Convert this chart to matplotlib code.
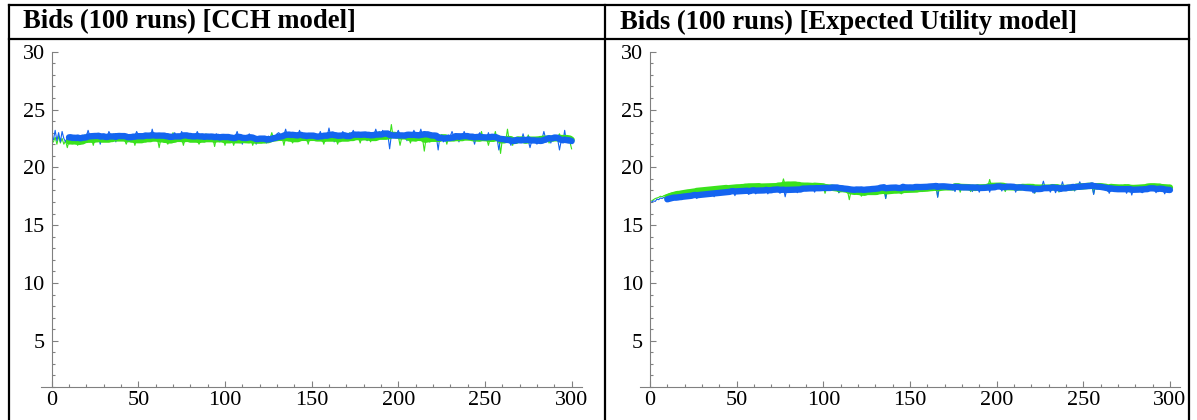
import numpy as np
import pandas as pd
import matplotlib
matplotlib.use('Agg')
import matplotlib.pyplot as plt
from matplotlib.lines import Line2D
from matplotlib.ticker import MultipleLocator

plt.rcParams['font.family'] = ['Liberation Serif', 'DejaVu Serif']

titles = ['Bids (100 runs) [CCH model]', 'Bids (100 runs) [Expected Utility model]']

# raw bids per round, 300 rounds
cch_blue = [
    22.4, 23.2, 22.3, 23.0, 22.2, 23.1, 22.5, 22.2, 22.6, 22.4, 22.5, 22.6, 22.5, 22.7, 22.6, 22.6, 22.5, 22.7, 22.6, 22.7,
    23.2, 22.7, 22.6, 22.8, 22.7, 22.6, 22.7, 22.0, 22.7, 22.8, 22.7, 22.6, 23.1, 22.8, 22.7, 22.7, 22.2, 22.7, 22.8, 22.7,
    22.7, 22.6, 22.7, 22.2, 22.8, 22.7, 22.6, 22.7, 23.1, 22.8, 22.7, 22.6, 22.7, 22.8, 22.7, 22.7, 22.6, 23.3, 22.7, 22.6,
    22.7, 22.7, 22.6, 22.8, 22.7, 22.2, 22.6, 22.7, 22.8, 22.7, 23.0, 22.6, 22.7, 22.7, 23.1, 22.7, 22.6, 22.7, 22.3, 22.7,
    22.7, 22.6, 22.7, 23.1, 22.7, 22.6, 22.7, 22.2, 22.6, 22.7, 22.6, 22.7, 22.6, 22.7, 22.9, 22.6, 22.2, 22.6, 22.7, 22.6,
    22.6, 22.7, 22.2, 22.5, 22.6, 22.7, 23.1, 22.6, 22.5, 22.0, 22.5, 22.6, 22.5, 22.9, 22.5, 22.5, 22.4, 22.0, 22.5, 22.4,
    22.5, 22.6, 22.5, 22.1, 22.7, 22.6, 22.7, 22.6, 22.7, 22.9, 23.0, 22.8, 22.7, 22.8, 23.3, 22.7, 22.8, 22.3, 22.8, 22.7,
    22.8, 22.7, 23.2, 22.7, 22.8, 22.7, 22.3, 22.7, 22.8, 22.7, 22.8, 22.3, 22.8, 22.7, 23.1, 22.7, 22.7, 22.8, 22.7, 23.4,
    22.7, 22.8, 22.2, 22.6, 22.7, 22.8, 22.7, 23.1, 22.7, 22.7, 22.8, 22.7, 22.8, 23.2, 22.8, 22.7, 22.8, 22.9, 22.8, 22.8,
    22.9, 22.3, 22.9, 22.8, 22.9, 22.8, 23.3, 22.8, 22.9, 22.8, 23.2, 22.8, 22.9, 22.8, 21.6, 22.8, 22.9, 22.8, 22.9, 23.2,
    22.8, 22.9, 22.8, 22.7, 22.3, 22.9, 22.8, 22.7, 23.2, 22.8, 22.7, 22.8, 23.3, 22.7, 22.8, 22.7, 22.8, 22.2, 22.8, 22.7,
    22.7, 22.6, 21.5, 22.7, 22.8, 22.2, 22.6, 22.7, 22.8, 22.7, 23.1, 22.7, 22.6, 22.7, 22.2, 22.7, 22.6, 23.1, 22.6, 22.7,
    22.6, 22.7, 22.6, 22.0, 22.6, 22.7, 23.0, 22.5, 22.6, 22.6, 22.5, 23.0, 22.5, 22.4, 22.5, 22.6, 22.5, 21.5, 22.5, 22.4,
    22.4, 22.5, 22.4, 22.3, 21.9, 22.5, 22.4, 22.3, 22.4, 22.3, 22.3, 22.9, 22.3, 22.4, 22.3, 21.7, 22.3, 22.4, 22.3, 22.0,
    22.5, 22.6, 22.5, 23.1, 22.5, 22.6, 22.7, 22.1, 22.5, 22.6, 22.5, 22.4, 21.5, 22.3, 22.2, 23.2, 22.2, 22.1, 22.2, 22.1,
]
cch_green = [
    22.2, 22.6, 22.0, 22.7, 22.1, 22.5, 22.0, 22.3, 21.7, 22.3, 22.3, 22.4, 22.3, 22.4, 21.9, 22.4, 22.3, 22.5, 22.8, 22.4,
    22.5, 22.4, 22.5, 21.9, 22.5, 22.4, 22.5, 22.4, 22.5, 22.4, 22.5, 22.4, 22.5, 22.4, 22.5, 22.9, 22.5, 22.4, 22.5, 22.4,
    22.5, 22.4, 22.0, 22.4, 22.5, 22.4, 22.5, 21.9, 22.5, 22.4, 22.5, 22.4, 22.5, 22.4, 22.9, 22.4, 22.5, 22.4, 22.5, 22.4,
    22.5, 21.7, 22.5, 22.4, 22.5, 22.4, 22.0, 22.4, 22.5, 23.0, 22.5, 22.4, 22.5, 22.4, 22.5, 21.9, 22.5, 22.4, 22.5, 22.4,
    22.5, 22.4, 22.5, 22.4, 22.0, 22.4, 22.5, 22.4, 22.9, 22.4, 22.5, 22.4, 22.5, 21.8, 22.5, 22.4, 22.5, 22.4, 22.5, 21.9,
    22.5, 22.4, 22.5, 22.4, 21.9, 22.4, 22.5, 22.4, 22.4, 22.3, 22.4, 22.3, 22.4, 22.3, 22.4, 21.9, 22.4, 22.3, 22.4, 22.3,
    22.4, 22.5, 22.4, 22.5, 22.4, 22.5, 23.0, 22.5, 22.6, 22.5, 22.6, 22.5, 22.6, 21.9, 22.6, 22.5, 22.6, 22.5, 22.1, 22.5,
    22.6, 22.5, 23.1, 22.5, 22.6, 22.5, 22.6, 22.0, 22.6, 22.5, 22.6, 22.5, 22.6, 22.5, 22.6, 22.5, 22.0, 22.5, 22.6, 22.5,
    22.6, 22.5, 22.6, 22.5, 22.0, 22.5, 22.6, 22.5, 22.6, 22.5, 22.6, 23.0, 22.6, 22.5, 22.6, 22.7, 22.6, 22.1, 22.6, 22.7,
    22.6, 22.7, 22.6, 22.2, 22.6, 22.7, 22.6, 22.7, 23.1, 22.7, 22.6, 22.7, 22.6, 22.7, 22.6, 23.7, 22.6, 22.7, 22.6, 22.7,
    21.9, 22.6, 22.7, 22.6, 22.7, 22.6, 22.1, 22.6, 22.6, 22.5, 22.6, 22.5, 22.6, 22.5, 21.4, 22.5, 22.6, 22.5, 23.0, 22.5,
    22.6, 22.5, 22.6, 22.5, 22.6, 22.5, 22.6, 22.0, 22.6, 22.5, 22.6, 22.5, 22.9, 22.5, 22.6, 22.5, 22.6, 22.5, 22.6, 22.5,
    22.5, 22.4, 22.5, 22.4, 22.5, 22.4, 22.5, 23.1, 22.5, 22.4, 22.5, 21.9, 22.5, 22.4, 22.5, 23.1, 22.4, 22.5, 21.2, 22.4,
    22.4, 22.3, 23.3, 22.3, 22.4, 21.9, 22.4, 22.3, 22.4, 22.3, 22.4, 22.3, 22.4, 22.3, 22.8, 22.3, 22.4, 22.3, 22.4, 22.4,
    22.5, 22.6, 22.5, 22.6, 22.5, 22.6, 22.1, 22.6, 22.5, 22.6, 22.5, 22.6, 22.9, 22.4, 22.5, 22.4, 22.3, 22.4, 22.2, 21.6,
]
eu_blue = [
    17.0, 17.1, 17.05, 17.25, 17.2, 17.35, 17.3, 17.4, 17.3, 17.4, 17.4, 17.5, 17.45, 17.5, 17.2, 17.5, 17.55, 17.5, 17.6, 17.55,
    17.6, 17.65, 17.6, 17.7, 17.65, 17.7, 17.3, 17.7, 17.75, 17.7, 17.75, 17.8, 17.75, 17.85, 17.8, 17.85, 17.45, 17.9, 17.85, 17.9,
    17.9, 17.95, 17.9, 18.0, 17.95, 18.0, 17.95, 18.0, 17.55, 18.0, 18.05, 18.0, 18.05, 18.1, 18.05, 18.0, 17.65, 18.1, 18.05, 18.1,
    17.7, 18.1, 18.05, 18.15, 18.1, 18.05, 18.1, 17.7, 18.1, 18.15, 18.1, 18.15, 18.2, 18.15, 17.75, 18.15, 18.2, 17.45, 18.15, 18.2,
    18.15, 18.2, 18.25, 18.2, 17.8, 18.2, 18.25, 18.2, 18.15, 18.2, 18.25, 18.3, 18.25, 18.2, 17.85, 18.3, 18.25, 18.2, 18.25, 18.3,
    18.25, 18.3, 18.25, 18.2, 18.25, 18.3, 18.25, 18.2, 17.8, 18.2, 18.1, 18.05, 18.1, 18.05, 18.0, 18.05, 18.1, 18.05, 18.1, 18.15,
    18.1, 18.15, 17.75, 18.15, 18.2, 18.15, 18.2, 18.25, 18.2, 18.25, 18.3, 18.35, 18.3, 18.35, 18.4, 17.3, 18.35, 18.4, 18.35, 18.3,
    18.35, 18.4, 17.95, 18.3, 18.35, 18.4, 17.85, 18.35, 18.3, 18.35, 18.3, 18.35, 18.4, 18.35, 18.3, 18.35, 17.9, 18.35, 18.4, 18.45,
    18.5, 18.45, 18.5, 18.45, 18.5, 17.4, 18.45, 18.4, 18.45, 18.4, 18.35, 18.3, 18.35, 18.3, 18.25, 17.9, 18.35, 18.3, 18.25, 18.3,
    18.3, 18.35, 18.3, 18.25, 18.3, 17.9, 18.3, 18.25, 18.3, 17.85, 18.35, 18.4, 18.35, 18.4, 18.45, 17.85, 18.4, 18.35, 18.4, 18.45,
    18.4, 18.35, 17.95, 18.35, 18.3, 18.35, 18.4, 18.35, 18.3, 18.35, 17.85, 18.25, 18.2, 18.25, 18.2, 18.15, 18.2, 18.25, 18.2, 18.15,
    17.8, 17.8, 18.25, 18.2, 18.25, 18.3, 18.8, 18.25, 18.2, 18.25, 17.85, 18.2, 18.25, 17.8, 18.2, 18.15, 18.2, 18.75, 18.2, 18.25,
    18.3, 18.35, 18.3, 18.35, 17.95, 18.35, 18.4, 18.75, 18.35, 18.4, 18.45, 18.4, 18.45, 18.4, 18.45, 17.65, 18.4, 18.35, 18.3, 18.25,
    18.2, 18.15, 18.1, 18.15, 17.75, 18.15, 18.1, 18.15, 18.2, 18.15, 18.2, 18.15, 18.1, 18.15, 17.75, 18.15, 18.2, 17.6, 18.15, 18.2,
    18.25, 18.2, 18.25, 17.8, 18.25, 18.2, 18.25, 18.2, 18.25, 18.2, 18.15, 17.8, 18.15, 18.1, 18.15, 18.1, 17.7, 18.1, 18.05, 18.1,
]
eu_green = [
    17.1, 17.2, 17.3, 17.35, 17.4, 17.5, 17.45, 17.55, 17.6, 17.65, 17.7, 17.75, 17.8, 17.75, 17.85, 17.8, 17.5, 17.9, 17.85, 17.9,
    17.95, 18.0, 17.95, 18.0, 18.05, 18.0, 17.95, 18.05, 18.0, 18.05, 18.1, 18.15, 18.1, 18.15, 18.2, 18.15, 18.1, 18.2, 18.15, 18.2,
    18.25, 18.3, 18.25, 18.3, 17.95, 18.3, 18.25, 18.35, 18.3, 18.35, 18.3, 18.35, 18.4, 18.35, 18.3, 18.35, 18.4, 18.35, 18.3, 18.4,
    18.35, 18.4, 18.45, 18.0, 18.35, 18.4, 18.45, 18.4, 18.35, 18.4, 18.45, 18.4, 18.45, 18.5, 18.45, 18.4, 19.0, 18.45, 18.5, 18.45,
    18.4, 18.45, 18.5, 18.45, 18.05, 18.45, 18.5, 18.45, 18.4, 18.45, 18.4, 18.35, 18.4, 18.35, 18.3, 18.35, 18.4, 18.35, 18.3, 18.3,
    17.75, 18.25, 18.2, 18.25, 18.2, 18.15, 18.2, 18.15, 17.8, 18.1, 18.0, 17.95, 18.0, 17.95, 17.2, 17.95, 17.9, 17.95, 17.9, 17.95,
    17.9, 17.5, 17.9, 17.85, 17.9, 17.95, 17.9, 17.95, 17.9, 17.95, 18.0, 18.05, 18.0, 18.05, 18.1, 17.3, 18.05, 18.1, 18.05, 18.1,
    18.1, 18.05, 18.1, 18.15, 17.7, 18.05, 18.1, 18.15, 18.1, 18.15, 18.1, 18.15, 18.2, 18.15, 18.1, 18.15, 18.2, 18.15, 18.2, 18.25,
    18.3, 18.35, 18.3, 18.35, 18.4, 17.45, 18.35, 18.4, 18.35, 18.4, 18.35, 18.3, 18.35, 18.4, 18.35, 18.3, 18.35, 18.4, 17.85, 18.35,
    18.3, 18.25, 18.3, 18.35, 17.9, 18.25, 18.3, 18.35, 18.3, 18.3, 18.35, 18.3, 18.35, 18.4, 18.35, 18.95, 18.35, 18.3, 18.35, 18.4,
    18.3, 18.35, 18.3, 18.25, 17.9, 18.35, 18.3, 18.25, 18.3, 18.35, 18.3, 18.25, 18.3, 18.35, 18.3, 18.25, 18.3, 18.35, 18.3, 18.25,
    18.3, 17.75, 18.35, 18.3, 18.25, 18.3, 18.35, 18.3, 18.25, 18.3, 18.25, 18.2, 18.25, 18.3, 18.25, 17.85, 18.25, 18.3, 18.25, 18.3,
    18.35, 18.3, 18.35, 18.4, 18.35, 18.3, 18.35, 18.4, 18.35, 18.4, 18.45, 18.5, 18.45, 18.4, 18.45, 17.7, 18.5, 18.45, 18.4, 18.35,
    18.3, 18.25, 18.3, 17.95, 18.3, 18.25, 18.3, 18.35, 18.3, 18.25, 18.25, 18.3, 18.25, 18.2, 18.25, 18.3, 17.85, 18.2, 18.25, 18.3,
    18.35, 18.4, 18.35, 18.3, 18.35, 18.4, 18.35, 18.4, 18.35, 18.3, 18.35, 18.3, 18.25, 18.3, 17.9, 18.3, 18.25, 18.3, 18.25, 18.3,
]

window = 10
x_ticks = [0, 50, 100, 150, 200, 250, 300]
y_ticks = [5, 10, 15, 20, 25, 30]

BLUE = '#1464f0'
GREEN = '#3ae21c'
AXCOL = '#808080'

W, H = 1197, 420
fig = plt.figure(figsize=(W / 100, H / 100), dpi=100)


def px_line(x0, y0, x1, y1):
    fig.add_artist(Line2D([x0 / W, x1 / W], [1 - y0 / H, 1 - y1 / H],
                          transform=fig.transFigure, color='black', lw=1.6))


# table grid around the two panels
px_line(8.5, 5, 1189, 5)
px_line(8.5, 38.5, 1189, 38.5)
px_line(8.5, 5, 8.5, 420)
px_line(605, 5, 605, 420)
px_line(1189, 5, 1189, 420)

panels = [(cch_blue, cch_green), (eu_blue, eu_green)]
lefts = [41.3, 639.6]
title_x = [23, 620]

for i, (blue, green) in enumerate(panels):
    ax = fig.add_axes([lefts[i] / W, 33 / H, 540.7 / W, 335.3 / H])
    x = np.arange(1, len(blue) + 1)
    sb = pd.Series(blue).rolling(window).mean()
    sg = pd.Series(green).rolling(window).mean()
    ax.plot(x, green, color=GREEN, lw=0.8)
    ax.plot(x, blue, color=BLUE, lw=0.8)
    ax.plot(x, sg, color=GREEN, lw=4.6, solid_capstyle='round')
    ax.plot(x, sb, color=BLUE, lw=4.6, solid_capstyle='round')

    ax.set_xlim(-6, 306)
    ax.set_ylim(1, 30)
    for s in ['top', 'right']:
        ax.spines[s].set_visible(False)
    ax.spines['left'].set_position(('data', 0))
    for s in ['left', 'bottom']:
        ax.spines[s].set_color(AXCOL)
        ax.spines[s].set_linewidth(0.8)
    ax.set_xticks(x_ticks)
    ax.set_yticks(y_ticks)
    ax.xaxis.set_minor_locator(MultipleLocator(10))
    ax.yaxis.set_minor_locator(MultipleLocator(1))
    ax.tick_params(which='both', direction='in', color=AXCOL, width=0.8, labelsize=16)
    ax.tick_params(which='major', length=4.5)
    ax.tick_params(which='minor', length=2.2)
    ax.tick_params(axis='y', pad=5)
    ax.tick_params(axis='x', pad=3)
    ax.patch.set_alpha(0)

    fig.text(title_x[i] / W, 1 - 22 / H, titles[i], fontsize=19.2, fontweight='bold',
             va='center', ha='left')

fig.savefig('out.png', dpi=100)
